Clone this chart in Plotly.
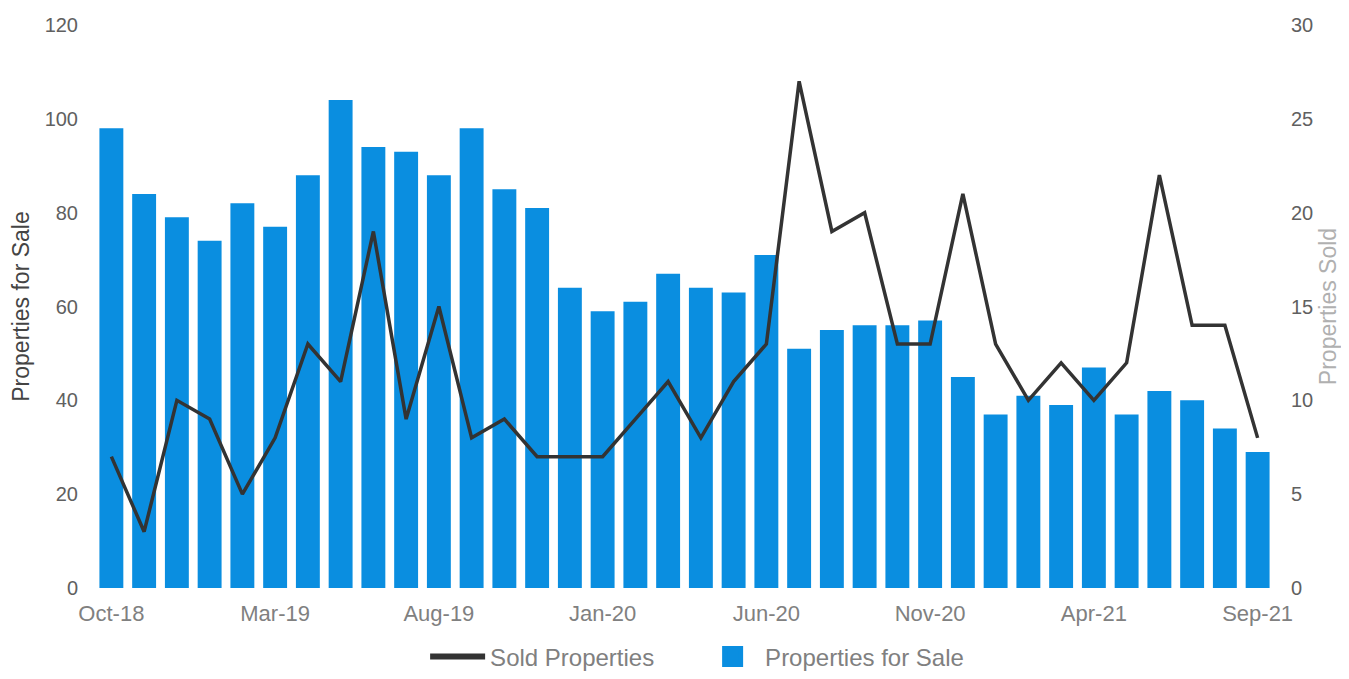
import plotly.graph_objects as go

months = ["Oct-18","Nov-18","Dec-18","Jan-19","Feb-19","Mar-19","Apr-19","May-19","Jun-19","Jul-19",
          "Aug-19","Sep-19","Oct-19","Nov-19","Dec-19","Jan-20","Feb-20","Mar-20","Apr-20","May-20",
          "Jun-20","Jul-20","Aug-20","Sep-20","Oct-20","Nov-20","Dec-20","Jan-21","Feb-21","Mar-21",
          "Apr-21","May-21","Jun-21","Jul-21","Aug-21","Sep-21"]
for_sale = [98, 84, 79, 74, 82, 77, 88, 104, 94, 93,
            88, 98, 85, 81, 64, 59, 61, 67, 64, 63,
            71, 51, 55, 56, 56, 57, 45, 37, 41, 39,
            47, 37, 42, 40, 34, 29]
sold = [7, 3, 10, 9, 5, 8, 13, 11, 19, 9,
        15, 8, 9, 7, 7, 7, 9, 11, 8, 11,
        13, 27, 19, 20, 13, 13, 21, 13, 10, 12,
        10, 12, 22, 14, 14, 8]
tick_labels = ["Oct-18","Mar-19","Aug-19","Jan-20","Jun-20","Nov-20","Apr-21","Sep-21"]
left_ticks = [0, 20, 40, 60, 80, 100, 120]
right_ticks = [0, 5, 10, 15, 20, 25, 30]

font_family = "Liberation Sans, Arial, sans-serif"
tick_color = "#606060"
bar_color = "#0a8ee0"
line_color = "#333333"

fig = go.Figure()
fig.add_trace(go.Scatter(x=months, y=sold, name="Sold Properties", mode="lines",
                         line=dict(color=line_color, width=3.5), yaxis="y2",
                         showlegend=False, legendgroup="sold"))
fig.add_trace(go.Bar(x=months, y=for_sale, name="Properties for Sale",
                     marker=dict(color=bar_color, line=dict(width=0)),
                     showlegend=False, legendgroup="sale"))
# legend-only entries with larger symbols, as in the reference
fig.add_trace(go.Scatter(x=[None], y=[None], name="Sold Properties", mode="lines",
                         line=dict(color=line_color, width=6), legendgroup="sold"))
fig.add_trace(go.Scatter(x=[None], y=[None], name="Properties for Sale", mode="markers",
                         marker=dict(color=bar_color, symbol="square", size=30,
                                     line=dict(color=bar_color, width=5)),
                         legendgroup="sale"))

fig.update_layout(
    width=1333, height=663,
    margin=dict(l=87, r=67, t=17, b=83, autoexpand=False),
    paper_bgcolor="white", plot_bgcolor="white",
    font=dict(family=font_family, size=20, color=tick_color),
    bargap=0.27,
    showlegend=True,
    legend=dict(orientation="h", x=0.28, xanchor="left", y=-0.1226, yanchor="middle",
                font=dict(size=24, color="#808080"), itemwidth=55, traceorder="normal",
                itemsizing="trace", entrywidth=205, entrywidthmode="pixels"),
    xaxis=dict(type="category", tickmode="array", tickvals=tick_labels, ticktext=tick_labels,
               showgrid=False, showline=False, zeroline=False, automargin=False,
               ticks="outside", ticklen=6, tickcolor="white",
               tickfont=dict(size=22, color="#808080"), range=[-0.5, 35.5]),
    yaxis=dict(range=[0, 120], tickvals=left_ticks, showgrid=False, zeroline=False,
               showline=False, automargin=False, ticks="outside", ticklen=12, tickcolor="white",
               tickfont=dict(size=20, color=tick_color),
               title=dict(text="Properties for Sale", font=dict(size=23, color="#444444"), standoff=12)),
    yaxis2=dict(range=[0, 30], tickvals=right_ticks, overlaying="y", side="right",
                showgrid=False, zeroline=False, showline=False, automargin=False,
                ticks="outside", ticklen=12, tickcolor="white",
                tickfont=dict(size=20, color=tick_color),
                title=dict(text="Properties Sold", font=dict(size=23, color="#b0b0b0"), standoff=16)),
)

fig.write_html("out.html")
